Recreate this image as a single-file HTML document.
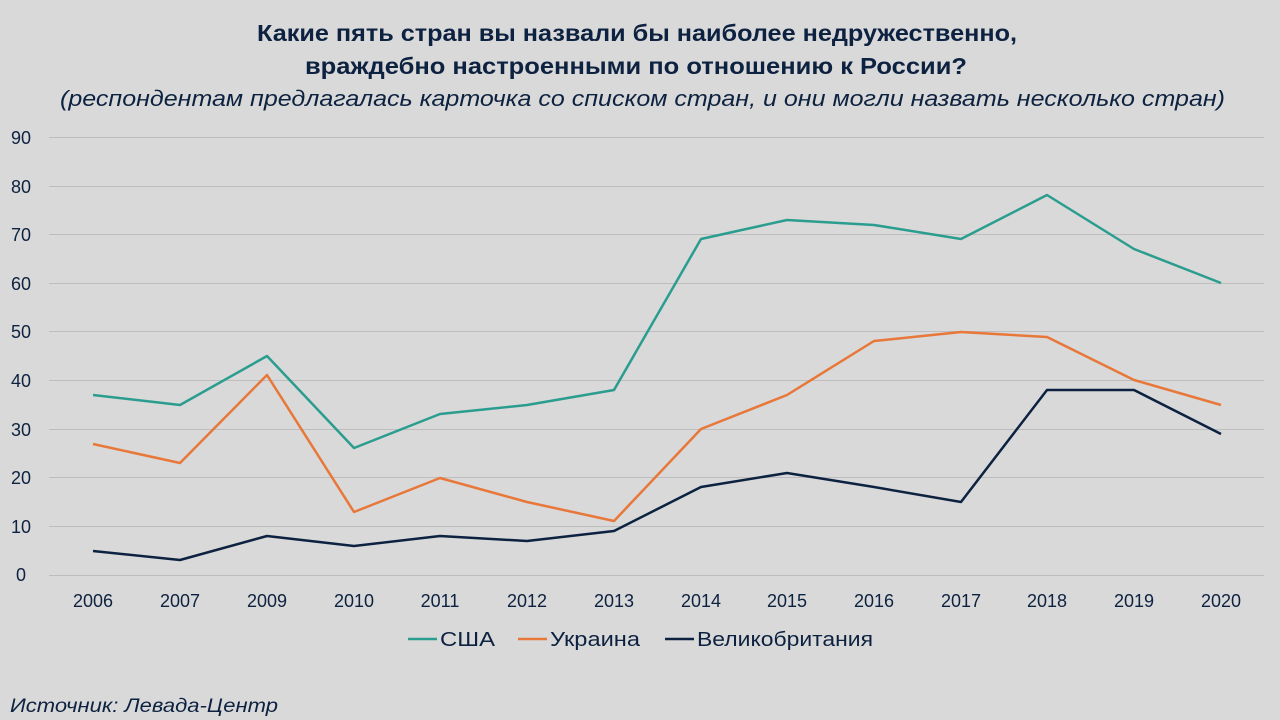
<!DOCTYPE html>
<html><head><meta charset="utf-8"><style>
body{margin:0;background:#d9d9d9;}
svg{display:block;font-family:"Liberation Sans","DejaVu Sans",sans-serif;}
</style></head><body>
<svg width="1280" height="720" viewBox="0 0 1280 720">
<rect width="1280" height="720" fill="#d9d9d9"/>
<text x="257" y="41" textLength="760" lengthAdjust="spacingAndGlyphs" font-size="23" font-weight="bold" fill="#0d2240">Какие пять стран вы назвали бы наиболее недружественно,</text>
<text x="305" y="74" textLength="662" lengthAdjust="spacingAndGlyphs" font-size="23" font-weight="bold" fill="#0d2240">враждебно настроенными по отношению к России?</text>
<text x="60" y="106" textLength="1165" lengthAdjust="spacingAndGlyphs" font-size="22" font-style="italic" fill="#0d2240">(респондентам предлагалась карточка со списком стран, и они могли назвать несколько стран)</text>
<g stroke="#bdbdbd" stroke-width="1">
<line x1="49" x2="1264" y1="137.5" y2="137.5"/><line x1="49" x2="1264" y1="186.5" y2="186.5"/>
<line x1="49" x2="1264" y1="234.5" y2="234.5"/><line x1="49" x2="1264" y1="283.5" y2="283.5"/>
<line x1="49" x2="1264" y1="331.5" y2="331.5"/><line x1="49" x2="1264" y1="380.5" y2="380.5"/>
<line x1="49" x2="1264" y1="429.5" y2="429.5"/><line x1="49" x2="1264" y1="477.5" y2="477.5"/>
<line x1="49" x2="1264" y1="526.5" y2="526.5"/><line x1="49" x2="1264" y1="575.5" y2="575.5"/>
</g>
<g font-size="18" fill="#0d2240" text-anchor="middle">
<text x="21" y="144">90</text><text x="21" y="193">80</text><text x="21" y="241">70</text><text x="21" y="290">60</text><text x="21" y="338">50</text><text x="21" y="387">40</text><text x="21" y="436">30</text><text x="21" y="484">20</text><text x="21" y="533">10</text><text x="21" y="581">0</text>
<text x="93" y="607">2006</text><text x="180" y="607">2007</text><text x="267" y="607">2009</text><text x="354" y="607">2010</text><text x="440" y="607">2011</text><text x="527" y="607">2012</text><text x="614" y="607">2013</text><text x="701" y="607">2014</text><text x="787" y="607">2015</text><text x="874" y="607">2016</text><text x="961" y="607">2017</text><text x="1047" y="607">2018</text><text x="1134" y="607">2019</text><text x="1221" y="607">2020</text>
</g>
<g fill="none" stroke-width="2.5" stroke-linejoin="round">
<polyline stroke="#2a9d8f" points="93,395 180,405 267,356 354,448 440,414 527,405 614,390 701,239 787,220 874,225 961,239 1047,195 1134,249 1221,283"/>
<polyline stroke="#e8773a" points="93,444 180,463 267,375 354,512 440,478 527,502 614,521 701,429 787,395 874,341 961,332 1047,337 1134,380 1221,405"/>
<polyline stroke="#0d2240" points="93,551 180,560 267,536 354,546 440,536 527,541 614,531 701,487 787,473 874,487 961,502 1047,390 1134,390 1221,434"/>
</g>
<g font-size="20" fill="#0d2240" lengthAdjust="spacingAndGlyphs">
<line x1="408" x2="437" y1="639" y2="639" stroke="#2a9d8f" stroke-width="2.5"/><text x="440" y="646" textLength="55" lengthAdjust="spacingAndGlyphs">США</text>
<line x1="518" x2="547" y1="639" y2="639" stroke="#e8773a" stroke-width="2.5"/><text x="550" y="646" textLength="90" lengthAdjust="spacingAndGlyphs">Украина</text>
<line x1="665" x2="694" y1="639" y2="639" stroke="#0d2240" stroke-width="2.5"/><text x="697" y="646" textLength="176" lengthAdjust="spacingAndGlyphs">Великобритания</text>
</g>
<text x="10" y="712" textLength="268" lengthAdjust="spacingAndGlyphs" font-size="19" font-style="italic" fill="#0d2240">Источник: Левада-Центр</text>
</svg>
</body></html>
